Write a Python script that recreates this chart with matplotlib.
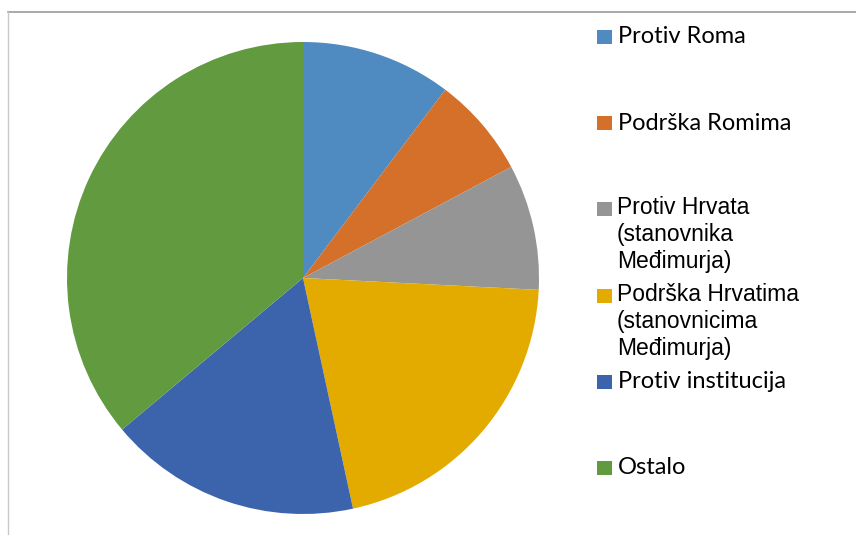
import matplotlib
matplotlib.use("Agg")
import matplotlib.pyplot as plt
from matplotlib.patches import Rectangle

# slice shares in percent
labels = ["Protiv Roma", "Podrška Romima",
          "Protiv Hrvata\n(stanovnika\nMeđimurja)",
          "Podrška Hrvatima\n(stanovnicima\nMeđimurja)",
          "Protiv institucija", "Ostalo"]
shares = [10.3, 6.9, 8.6, 20.8, 17.3, 36.1]
colors = ["#4f8ac0", "#d4702a", "#959595", "#e3aa00", "#3c64ad", "#629b3f"]
# the two long labels are set in a different (Arial-like) font in the original
wide_font = [False, False, True, True, False, False]

W, H = 856, 535
fig = plt.figure(figsize=(W / 100, H / 100), dpi=100)

# grey chart frame (open at right and bottom)
fig.add_artist(plt.Line2D([8 / W, 1], [1 - 12 / H, 1 - 12 / H], color="#9a9a9a", lw=1.2))
fig.add_artist(plt.Line2D([8 / W, 8 / W], [0, 1 - 12 / H], color="#c8c8c8", lw=1.0))

cx, cy, r = 303, 278, 236
ax = fig.add_axes([(cx - r) / W, (H - cy - r) / H, 2 * r / W, 2 * r / H])
ax.pie(shares, colors=colors, startangle=90, counterclock=False,
       radius=1, wedgeprops=dict(linewidth=0))
ax.set_xlim(-1, 1)
ax.set_ylim(-1, 1)
ax.set_aspect("auto")
ax.axis("off")

# legend built by hand to match the spacing of the original
for i, (lab, col, wide) in enumerate(zip(labels, colors, wide_font)):
    y = 37 + i * 86.2
    fig.add_artist(Rectangle((597 / W, 1 - (y + 7) / H), 15 / W, 14 / H,
                             transform=fig.transFigure, color=col, lw=0))
    if wide:
        fig.text(617 / W, 1 - (y - 13) / H, lab, fontsize=16.5,
                 family="Liberation Sans", va="top", ha="left",
                 linespacing=1.22, color="black")
    else:
        fig.text(618 / W, 1 - y / H, lab, fontsize=17,
                 family="Lato", va="center", ha="left", color="black")

fig.savefig("out.png", dpi=100)
